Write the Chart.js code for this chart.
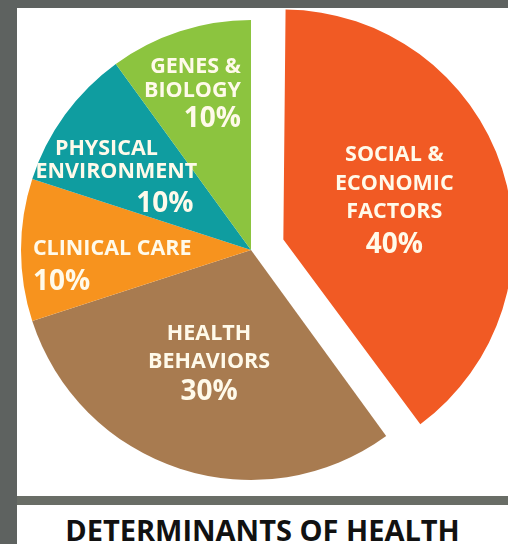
<!DOCTYPE html>
<html lang="en">
<head>
<meta charset="UTF-8">
<title>Determinants of Health</title>
<script src="https://cdn.jsdelivr.net/npm/chart.js"></script>
<style>
    body {
        margin: 0;
        width: 508px;
        height: 544px;
        overflow: hidden;
        position: relative;
        background: #5e6260;
        font-family: "Open Sans", sans-serif;
    }
    .panel {
        position: absolute;
        left: 17px;
        top: 8px;
        width: 491px;
        height: 488px;
        background: #fff;
        overflow: hidden;
    }
    .panel canvas {
        position: absolute;
        left: -46px;
        top: -38px;
    }
    .strip {
        position: absolute;
        left: 17px;
        top: 496px;
        width: 491px;
        height: 9px;
        background: #696d66;
    }
    .caption {
        position: absolute;
        left: 17px;
        top: 505px;
        width: 491px;
        height: 50px;
        line-height: 50px;
        background: #fff;
        text-align: center;
        font-weight: bold;
        font-size: 29px;
        color: #111;
        margin: 0;
    }
</style>
</head>
<body>
    <div class="panel"><canvas id="pie" width="560" height="560"></canvas></div>
    <div class="strip"></div>
    <h1 class="caption">DETERMINANTS OF HEALTH</h1>

<script>
    // chart data
    const categories = ['SOCIAL & ECONOMIC FACTORS', 'HEALTH BEHAVIORS', 'CLINICAL CARE', 'PHYSICAL ENVIRONMENT', 'GENES & BIOLOGY'];
    const labelLines = [['SOCIAL &', 'ECONOMIC', 'FACTORS'], ['HEALTH', 'BEHAVIORS'], ['CLINICAL CARE'], ['PHYSICAL', 'ENVIRONMENT'], ['GENES &', 'BIOLOGY']];
    const shares = [40, 30, 10, 10, 10];
    const sliceColors = ['#f15a24', '#a87b50', '#f7931e', '#0f9da0', '#8cc43f'];
    const explode = [136, 0, 0, 0, 0];   // chart.js moves the slice by offset/4

    // where each text block sits: t = part of the slice angle, f = part of the radius
    // lines / pct = [dx, dy, align] from that point
    const labelPlace = [
        { t: 0.483, f: 0.515, lines: [[0, -45, 'center'], [0, -16, 'center'], [0, 12, 'center']], pct: [0, 45, 'center'] },
        { t: 0.525, f: 0.516, lines: [[0, -29, 'center'], [0, -1, 'center']], pct: [0, 29, 'center'] },
        { t: 0.405, f: 0.95,  lines: [[0, -16, 'left']], pct: [0, 17, 'left'] },
        { t: 0.35,  f: 0.68,  lines: [[-10, -23, 'center'], [0, 0, 'center']], pct: [77, 32, 'right'] },
        { t: 0.9,   f: 0.70,  lines: [[0, -24, 'right'], [0, 0, 'right']], pct: [0, 28, 'right'] }
    ];
    const nameSize = 21.5;
    const pctSize = 28;
    const textColor = '#fffaea';

    // offset also makes the arc bigger, take that back so all slices share one radius
    const offsetFix = {
        id: 'offsetFix',
        afterDatasetsUpdate(chart) {
            chart.getDatasetMeta(0).data.forEach(arc => {
                const off = (arc.options.offset || 0) / 4;
                arc.outerRadius -= off * (1 - Math.sin(Math.min(Math.PI, arc.circumference)));
            });
        }
    };

    const sliceLabels = {
        id: 'sliceLabels',
        afterDatasetsDraw(chart) {
            const ctx = chart.ctx;
            const meta = chart.getDatasetMeta(0);
            const r = meta.controller.outerRadius;
            ctx.save();
            ctx.fillStyle = textColor;
            ctx.textBaseline = 'alphabetic';
            meta.data.forEach((arc, i) => {
                const shift = (arc.options.offset || 0) / 4;
                const mid = (arc.startAngle + arc.endAngle) / 2;
                const cx = arc.x + Math.cos(mid) * shift;
                const cy = arc.y + Math.sin(mid) * shift;
                const p = labelPlace[i];
                const a = arc.startAngle + p.t * (arc.endAngle - arc.startAngle);
                const ax = cx + Math.cos(a) * p.f * r;
                const ay = cy + Math.sin(a) * p.f * r;

                ctx.font = 'bold ' + nameSize + 'px "Open Sans"';
                labelLines[i].forEach((txt, j) => {
                    const [dx, dy, align] = p.lines[j];
                    ctx.textAlign = align;
                    ctx.fillText(txt, ax + dx, ay + dy + nameSize * 0.36);
                });
                ctx.font = 'bold ' + pctSize + 'px "Open Sans"';
                ctx.textAlign = p.pct[2];
                ctx.fillText(shares[i] + '%', ax + p.pct[0], ay + p.pct[1] + pctSize * 0.36);
            });
            ctx.restore();
        }
    };

    new Chart(document.getElementById('pie'), {
        type: 'pie',
        data: {
            labels: categories,
            datasets: [{
                data: shares,
                backgroundColor: sliceColors,
                borderWidth: 0,
                offset: explode,
                radius: 230
            }]
        },
        options: {
            responsive: false,
            animation: false,
            events: [],
            layout: { padding: 0 },
            plugins: {
                legend: { display: false },
                tooltip: { enabled: false }
            }
        },
        plugins: [offsetFix, sliceLabels]
    });
</script>
</body>
</html>
